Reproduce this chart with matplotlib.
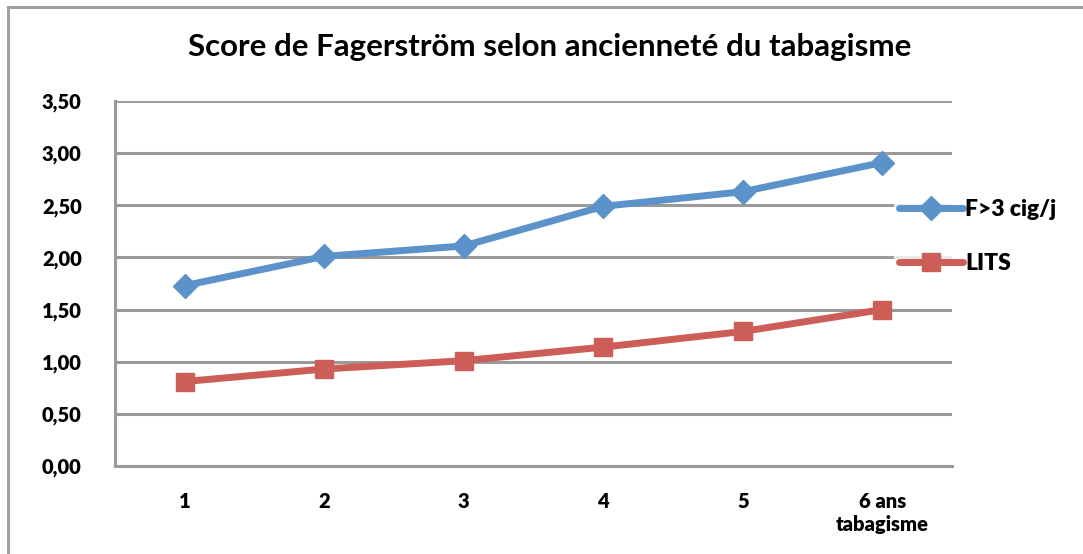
import matplotlib
matplotlib.use("Agg")
import matplotlib.pyplot as plt
from matplotlib.patches import Rectangle

plt.rcParams['font.family'] = ['Lato', 'DejaVu Sans']

categories = ["1", "2", "3", "4", "5", "6 ans\ntabagisme"]
f3_cig = [1.73, 2.01, 2.11, 2.49, 2.63, 2.91]
lits = [0.81, 0.93, 1.01, 1.14, 1.29, 1.50]
series_names = ["F>3 cig/j", "LITS"]
yticks = [0.0, 0.5, 1.0, 1.5, 2.0, 2.5, 3.0, 3.5]
title = "Score de Fagerström selon ancienneté du tabagisme"

W, H = 1083, 554
fig = plt.figure(figsize=(W / 100, H / 100), dpi=100)
fig.patch.set_facecolor('white')

# outer chart frame
fig.add_artist(Rectangle((8 / W, -0.1), 1.2, 1 - 7 / H + 0.1, transform=fig.transFigure,
                         fill=False, edgecolor='#a0a0a0', lw=2.2, zorder=0))

ax = fig.add_axes([115 / W, 1 - 466 / H, (952 - 115) / W, (466 - 101) / H])
x = list(range(1, len(categories) + 1))
blue = '#5A92C9'
red = '#CD5D57'
ax.plot(x, f3_cig, color=blue, lw=5, marker='D', markersize=12, label=series_names[0],
        solid_capstyle='round', zorder=3)
ax.plot(x, lits, color=red, lw=5, marker='s', markersize=13, label=series_names[1],
        solid_capstyle='round', zorder=3)

ax.set_xlim(0.5, len(categories) + 0.5)
ax.set_ylim(0, 3.5)
ax.set_yticks(yticks)
ax.set_yticklabels([f"{v:.2f}".replace('.', ',') for v in yticks])
ax.set_xticks(x)
ax.set_xticklabels(categories, linespacing=1.25)
for lab in ax.get_xticklabels() + ax.get_yticklabels():
    lab.set_fontweight('heavy')
    lab.set_fontsize(14.5)
ax.tick_params(axis='y', length=0, pad=24)
ax.tick_params(axis='x', length=0, pad=19)
ax.grid(axis='y', color='#9a9a9a', lw=2.2)
ax.set_axisbelow(True)
for s in ['top', 'right']:
    ax.spines[s].set_visible(False)
for s in ['left', 'bottom']:
    ax.spines[s].set_color('#9a9a9a')
    ax.spines[s].set_linewidth(2.2)

fig.text(550 / W, 1 - 47 / H, title, ha='center', va='center', fontsize=22.5, fontweight='bold')

leg = fig.legend(loc='upper left', bbox_to_anchor=(894 / W, 1 - 194 / H), frameon=True,
                 fontsize=16.5, handlelength=2.8, labelspacing=1.45, borderpad=0.2,
                 handletextpad=0.1, borderaxespad=0)
leg.get_frame().set_facecolor('white')
leg.get_frame().set_edgecolor('none')
for t in leg.get_texts():
    t.set_fontweight('heavy')

fig.savefig('out.png', dpi=100, facecolor='white')
